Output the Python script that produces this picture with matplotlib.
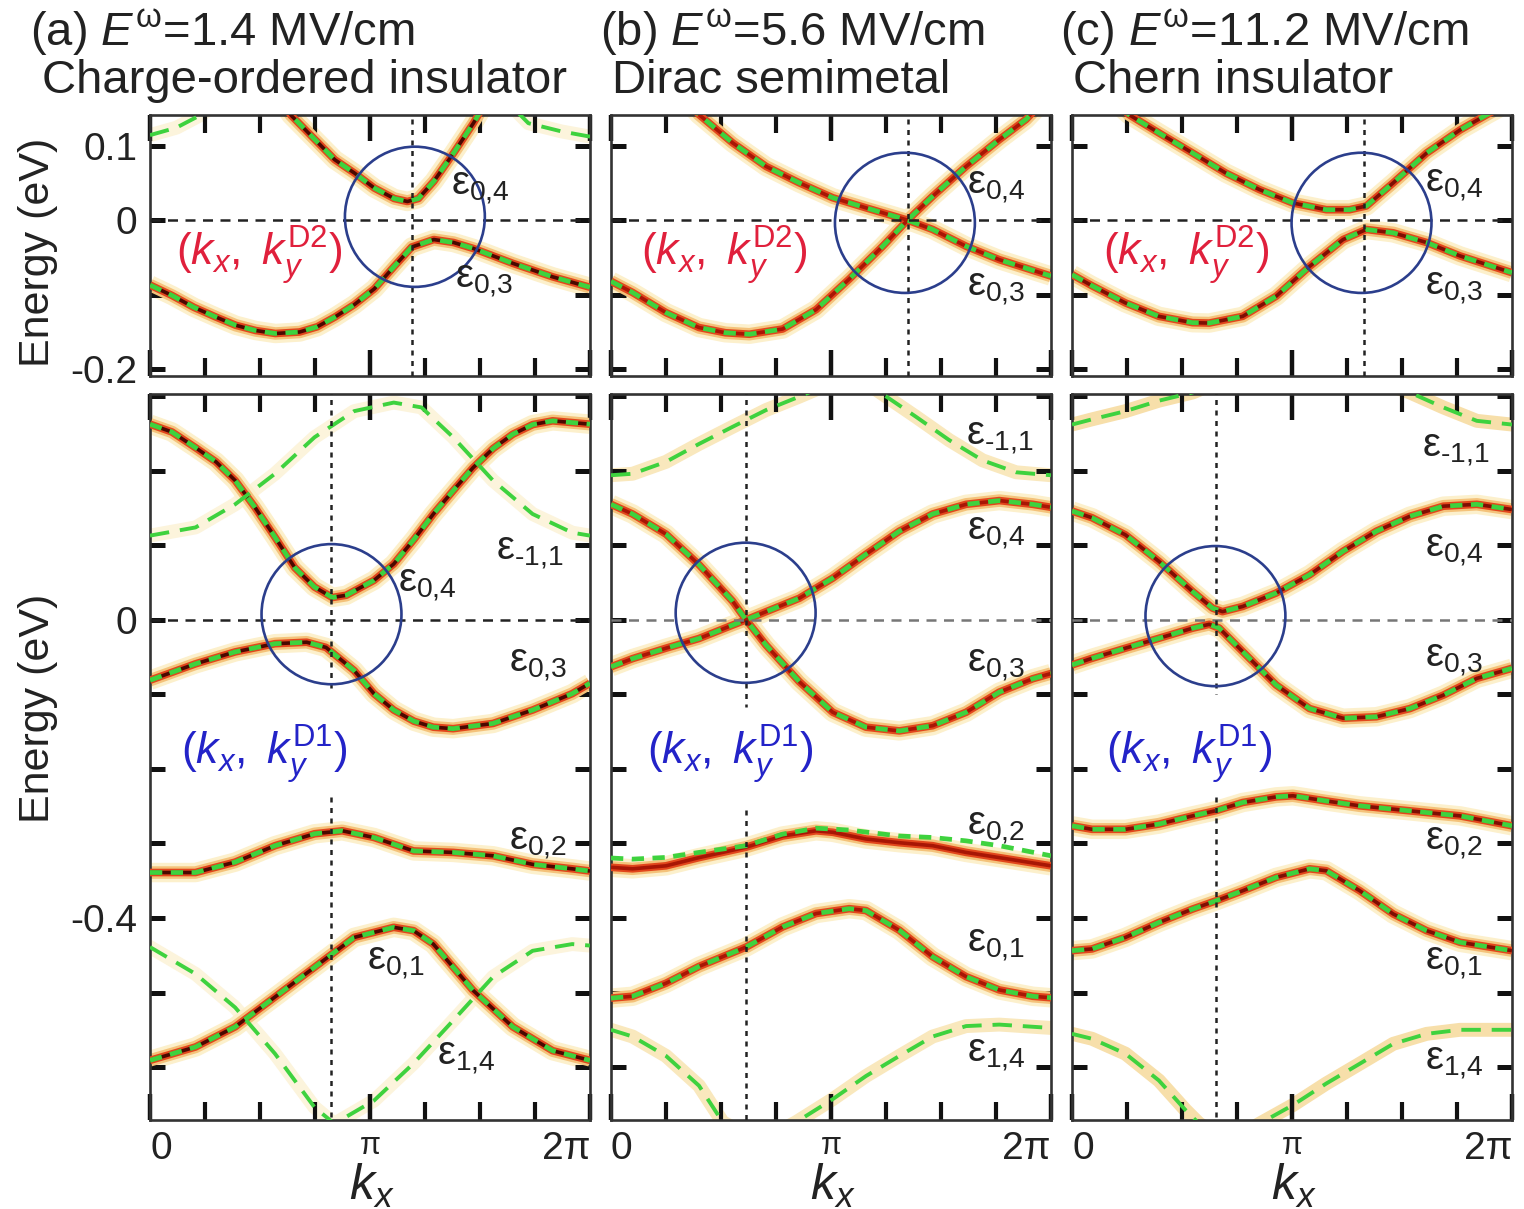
import numpy as np
import matplotlib
matplotlib.use("Agg")
import matplotlib.pyplot as plt
from matplotlib.patches import Ellipse

plt.rcParams['font.family'] = ['Liberation Sans', 'DejaVu Sans']
plt.rcParams['mathtext.fontset'] = 'custom'
plt.rcParams['mathtext.rm'] = 'Liberation Sans'
plt.rcParams['mathtext.it'] = 'Liberation Sans:italic'
plt.rcParams['mathtext.bf'] = 'Liberation Sans:bold'

# ---- data: kx in units of pi, energy in eV ----
# (a) top row, (kx, ky^D2)
a_top_e04_k = [0.55, 0.64, 0.75, 0.84, 0.93, 1.02, 1.11, 1.17, 1.22, 1.29, 1.38, 1.47, 1.55]
a_top_e04_E = [0.18, 0.141, 0.108, 0.081, 0.063, 0.043, 0.029, 0.025, 0.029, 0.052, 0.090, 0.130, 0.17]
a_top_e03_k = [0, 0.1, 0.2, 0.3, 0.39, 0.48, 0.57, 0.68, 0.76, 0.84, 0.93, 1.02, 1.11, 1.19, 1.29, 1.38, 1.47, 1.65, 1.83, 2.0]
a_top_e03_E = [-0.087, -0.101, -0.117, -0.130, -0.141, -0.148, -0.152, -0.150, -0.143, -0.130, -0.113, -0.092, -0.062, -0.036, -0.026, -0.030, -0.038, -0.058, -0.076, -0.090]
a_top_em11_k = [0, 0.12, 0.23, 0.35, 1.0, 1.62, 1.72, 1.87, 2.0]
a_top_em11_E = [0.114, 0.124, 0.141, 0.165, 0.30, 0.16, 0.13, 0.119, 0.112]

# (b) top row
b_top_dn_k = [0.3, 0.40, 0.553, 0.705, 0.856, 1.008, 1.159, 1.348, 1.462, 1.614, 1.765, 2.0]
b_top_dn_E = [0.175, 0.1415, 0.1036, 0.072, 0.050, 0.030, 0.0165, 0.0, -0.0125, -0.035, -0.053, -0.075]
b_top_up_k = [0, 0.098, 0.25, 0.40, 0.52, 0.629, 0.78, 0.932, 1.083, 1.235, 1.348, 1.462, 1.614, 1.765, 1.886, 2.0]
b_top_up_E = [-0.082, -0.097, -0.124, -0.144, -0.151, -0.153, -0.146, -0.120, -0.079, -0.035, 0.0, 0.032, 0.072, 0.108, 0.135, 0.17]

# (c) top row
c_top_e04_k = [0.15, 0.259, 0.395, 0.548, 0.70, 0.852, 1.004, 1.156, 1.262, 1.338, 1.46, 1.612, 1.764, 1.886, 2.0]
c_top_e04_E = [0.17, 0.1415, 0.117, 0.090, 0.063, 0.041, 0.023, 0.014, 0.014, 0.019, 0.050, 0.090, 0.121, 0.1415, 0.16]
c_top_e03_k = [0, 0.091, 0.243, 0.395, 0.548, 0.624, 0.776, 0.928, 1.08, 1.232, 1.338, 1.46, 1.612, 1.764, 2.0]
c_top_e03_E = [-0.073, -0.088, -0.111, -0.129, -0.1375, -0.138, -0.129, -0.102, -0.062, -0.026, -0.0125, -0.017, -0.030, -0.048, -0.0705]

# (a) bottom row, (kx, ky^D1)
a_bot_e04_k = [0, 0.1, 0.207, 0.3, 0.387, 0.477, 0.568, 0.658, 0.748, 0.829, 0.892, 1.018, 1.108, 1.2, 1.288, 1.38, 1.468, 1.56, 1.649, 1.74, 1.83, 2.0]
a_bot_e04_E = [0.2625, 0.252, 0.231, 0.212, 0.187, 0.151, 0.111, 0.070, 0.044, 0.030, 0.033, 0.053, 0.075, 0.108, 0.142, 0.174, 0.204, 0.230, 0.249, 0.262, 0.267, 0.2625]
a_bot_em11_k = [0, 0.207, 0.387, 0.568, 0.748, 0.928, 1.108, 1.234, 1.378, 1.559, 1.739, 1.919, 2.0]
a_bot_em11_E = [0.113, 0.124, 0.155, 0.196, 0.245, 0.280, 0.2915, 0.285, 0.245, 0.187, 0.142, 0.117, 0.113]
a_bot_e03_k = [0, 0.207, 0.387, 0.568, 0.712, 0.80, 0.928, 1.018, 1.108, 1.2, 1.288, 1.378, 1.559, 1.739, 1.919, 2.0]
a_bot_e03_E = [-0.081, -0.059, -0.043, -0.032, -0.030, -0.037, -0.068, -0.099, -0.121, -0.136, -0.144, -0.146, -0.139, -0.121, -0.099, -0.085]
a_bot_e02_k = [0, 0.207, 0.387, 0.568, 0.748, 0.874, 1.018, 1.198, 1.378, 1.559, 1.739, 1.919, 2.0]
a_bot_e02_E = [-0.339, -0.339, -0.325, -0.303, -0.287, -0.283, -0.292, -0.310, -0.312, -0.3165, -0.328, -0.334, -0.337]
a_bot_e01_k = [0, 0.207, 0.387, 0.568, 0.748, 0.928, 1.108, 1.198, 1.288, 1.468, 1.649, 1.83, 2.0]
a_bot_e01_E = [-0.591, -0.573, -0.546, -0.506, -0.466, -0.426, -0.4125, -0.417, -0.435, -0.497, -0.546, -0.578, -0.591]
a_bot_e14_k = [0, 0.207, 0.387, 0.568, 0.748, 0.838, 1.018, 1.198, 1.378, 1.559, 1.739, 1.919, 2.0]
a_bot_e14_E = [-0.439, -0.475, -0.52, -0.582, -0.654, -0.676, -0.645, -0.595, -0.5375, -0.479, -0.444, -0.435, -0.437]

# (b) bottom row
b_bot_em11_k = [0, 0.098, 0.25, 0.40, 0.553, 0.705, 0.856, 1.1, 1.386, 1.538, 1.689, 1.841, 2.0]
b_bot_em11_E = [0.194, 0.196, 0.212, 0.236, 0.259, 0.2815, 0.2995, 0.33, 0.2725, 0.241, 0.214, 0.198, 0.194]
b_bot_dn_k = [0, 0.098, 0.25, 0.40, 0.553, 0.614, 0.705, 0.856, 1.008, 1.159, 1.311, 1.462, 1.614, 1.765, 1.917, 2.0]
b_bot_dn_E = [0.155, 0.142, 0.115, 0.074, 0.025, 0.0, -0.034, -0.083, -0.124, -0.144, -0.149, -0.142, -0.124, -0.097, -0.079, -0.072]
b_bot_up_k = [0, 0.098, 0.25, 0.40, 0.553, 0.614, 0.705, 0.856, 1.008, 1.159, 1.311, 1.462, 1.614, 1.765, 1.917, 2.0]
b_bot_up_E = [-0.063, -0.052, -0.038, -0.025, -0.007, 0.0, 0.011, 0.029, 0.056, 0.088, 0.119, 0.142, 0.155, 0.160, 0.155, 0.151]
b_bot_e02_k = [0, 0.098, 0.25, 0.40, 0.614, 0.78, 0.932, 1.008, 1.159, 1.311, 1.462, 1.614, 1.765, 2.0]
b_bot_e02_E = [-0.332, -0.334, -0.330, -0.319, -0.305, -0.290, -0.283, -0.285, -0.294, -0.299, -0.303, -0.312, -0.319, -0.330]
b_bot_e02g_k = [0, 0.098, 0.25, 0.40, 0.614, 0.78, 0.932, 1.083, 1.311, 1.462, 1.614, 1.765, 2.0]
b_bot_e02g_E = [-0.3195, -0.321, -0.3187, -0.312, -0.303, -0.2875, -0.2795, -0.282, -0.290, -0.292, -0.2965, -0.303, -0.3165]
b_bot_e01_k = [0, 0.098, 0.25, 0.40, 0.614, 0.78, 0.932, 1.083, 1.159, 1.311, 1.462, 1.614, 1.765, 1.917, 2.0]
b_bot_e01_E = [-0.5075, -0.505, -0.4875, -0.465, -0.439, -0.412, -0.394, -0.3875, -0.390, -0.4165, -0.452, -0.4787, -0.4965, -0.505, -0.507]
b_bot_e14_k = [0, 0.098, 0.25, 0.40, 0.508, 0.674, 0.841, 1.008, 1.159, 1.311, 1.462, 1.614, 1.765, 2.0]
b_bot_e14_E = [-0.550, -0.559, -0.585, -0.625, -0.674, -0.70, -0.674, -0.643, -0.612, -0.585, -0.559, -0.545, -0.543, -0.5475]

# (c) bottom row
c_bot_em11_k = [0, 0.091, 0.243, 0.395, 0.548, 1.0, 1.536, 1.688, 1.84, 2.0]
c_bot_em11_E = [0.262, 0.269, 0.280, 0.294, 0.305, 0.36, 0.305, 0.285, 0.267, 0.262]
c_bot_e04_k = [0, 0.091, 0.243, 0.395, 0.548, 0.639, 0.684, 0.776, 0.928, 1.08, 1.232, 1.384, 1.536, 1.688, 1.84, 2.0]
c_bot_e04_E = [0.146, 0.137, 0.114, 0.0785, 0.038, 0.0157, 0.011, 0.018, 0.036, 0.0605, 0.092, 0.119, 0.139, 0.1525, 0.155, 0.148]
c_bot_e03_k = [0, 0.091, 0.243, 0.395, 0.548, 0.624, 0.669, 0.776, 0.928, 1.08, 1.232, 1.384, 1.536, 1.688, 1.84, 2.0]
c_bot_e03_E = [-0.0605, -0.0516, -0.038, -0.0247, -0.0112, -0.006, -0.011, -0.0426, -0.0874, -0.119, -0.132, -0.130, -0.119, -0.101, -0.0785, -0.065]
c_bot_e02_k = [0, 0.091, 0.243, 0.395, 0.548, 0.654, 0.776, 0.928, 1.004, 1.156, 1.308, 1.46, 1.612, 1.764, 2.0]
c_bot_e02_E = [-0.2763, -0.281, -0.281, -0.274, -0.263, -0.256, -0.245, -0.2375, -0.236, -0.243, -0.2495, -0.254, -0.2585, -0.263, -0.2763]
c_bot_e01_k = [0, 0.091, 0.243, 0.395, 0.548, 0.654, 0.776, 0.928, 1.08, 1.156, 1.308, 1.46, 1.612, 1.764, 2.0]
c_bot_e01_E = [-0.4438, -0.4415, -0.426, -0.406, -0.388, -0.377, -0.3634, -0.3455, -0.334, -0.3366, -0.3634, -0.3946, -0.417, -0.4326, -0.4438]
c_bot_e14_k = [0, 0.091, 0.243, 0.395, 0.517, 0.578, 0.715, 0.852, 1.004, 1.156, 1.308, 1.46, 1.612, 1.764, 2.0]
c_bot_e14_E = [-0.5554, -0.562, -0.582, -0.618, -0.658, -0.676, -0.70, -0.676, -0.651, -0.622, -0.5955, -0.5688, -0.5554, -0.55, -0.55]

# panel titles
titles = ['(a) $E^{\\mathrm{\\omega}}$=1.4 MV/cm', '(b) $E^{\\mathrm{\\omega}}$=5.6 MV/cm',
          '(c) $E^{\\mathrm{\\omega}}$=11.2 MV/cm']
phases = ['Charge-ordered insulator', 'Dirac semimetal', 'Chern insulator']

# vertical guide (kx of Dirac point, units of pi) and circle centres (kx/pi, E)
kD2 = [1.19, 1.348, 1.326]
kD1 = [0.823, 0.614, 0.654]
vgap_hi = [-0.094, -0.117, -0.10]
vgap_lo = [-0.238, -0.255, -0.238]
circ_top = [(1.204, 0.0045), (1.336, -0.0036), (1.316, -0.0036)]
circ_bot = [(0.825, 0.0076), (0.612, 0.0095), (0.652, 0.005)]
circ_r = (0.318, 0.094)

# band labels: (subscript, kx/pi, E)
lab_top = [[('0{,}4', 1.50, 0.043), ('0{,}3', 1.518, -0.081)],
           [('0{,}4', 1.75, 0.044), ('0{,}3', 1.75, -0.093)],
           [('0{,}4', 1.736, 0.047), ('0{,}3', 1.736, -0.091)]]
lab_bot = [[('\u2010 1{,}1', 1.727, 0.090), ('0{,}4', 1.259, 0.047), ('0{,}3', 1.764, -0.060),
            ('0{,}2', 1.764, -0.299), ('0{,}1', 1.118, -0.460), ('1{,}4', 1.436, -0.588)],
           [('\u2010 1{,}1', 1.768, 0.244), ('0{,}4', 1.75, 0.117), ('0{,}3', 1.75, -0.060),
            ('0{,}2', 1.75, -0.279), ('0{,}1', 1.75, -0.436), ('1{,}4', 1.75, -0.584)],
           [('\u2010 1{,}1', 1.745, 0.228), ('0{,}4', 1.736, 0.094), ('0{,}3', 1.736, -0.054),
            ('0{,}2', 1.736, -0.299), ('0{,}1', 1.736, -0.460), ('1{,}4', 1.736, -0.595)]]
pos_D2 = [(0.495, -0.047), (0.514, -0.047), (0.518, -0.047)]
pos_D1 = [(0.518, -0.181), (0.541, -0.181), (0.532, -0.181)]

core_col = ['#4a0800', '#a81605', '#7e0e03']
side_halo = ['#fcf4dc', '#f9e8bd', '#f7dfaa']

TXT = '#222222'


def draw_band(ax, k, E, core, gk=None, gE=None):
    k = np.array(k) * np.pi
    kw = dict(solid_joinstyle='round', solid_capstyle='butt')
    ax.plot(k, E, color='#fcf0cc', lw=14, zorder=1, **kw)
    ax.plot(k, E, color='#f4c27a', lw=9, zorder=2, **kw)
    ax.plot(k, E, color='#e2461c', lw=5.5, zorder=3, **kw)
    ax.plot(k, E, color=core, lw=2.6, zorder=4, **kw)
    if gk is None:
        gk, gE = k, E
    else:
        gk = np.array(gk) * np.pi
    ax.plot(gk, gE, color='#3ed23e', lw=3.4, dashes=(2.6, 1.8), zorder=6,
            dash_capstyle='butt', dash_joinstyle='round')


def draw_side(ax, k, E, halo):
    k = np.array(k) * np.pi
    ax.plot(k, E, color=halo, lw=10, zorder=1, solid_joinstyle='round')
    ax.plot(k, E, color='#3ed23e', lw=2.8, dashes=(5, 2.8), zorder=6,
            dash_joinstyle='round')


def style_axes(ax, ylim, yt, ylab, show_y, show_x):
    ax.set_xlim(0, 2 * np.pi)
    ax.set_ylim(*ylim)
    ax.set_xticks([0, np.pi, 2 * np.pi])
    ax.set_xticks(np.array([0.25, 0.5, 0.75, 1.25, 1.5, 1.75]) * np.pi, minor=True)
    ax.set_yticks(yt)
    ax.tick_params(which='both', direction='in', top=True, right=True,
                   color='#111111', labelsize=28, labelcolor=TXT)
    ax.tick_params(axis='x', which='major', length=19, width=3.2, pad=8)
    ax.tick_params(axis='x', which='minor', length=13, width=3.0)
    ax.tick_params(axis='y', which='major', length=11, width=3.6, pad=9)
    for s in ax.spines.values():
        s.set_linewidth(1.9)
        s.set_color('#333333')
    if show_y:
        ax.set_yticklabels(ylab)
    else:
        ax.set_yticklabels([])
    if show_x:
        labs = ax.set_xticklabels(['0', 'π', '2π'])
        labs[0].set_ha('left')
        labs[1].set_fontsize(22)
        labs[1].set_va('top')
        labs[2].set_ha('right')
    else:
        ax.set_xticklabels([])


fig = plt.figure(figsize=(15.24, 12.09), dpi=100)
W, H = 1524.0, 1209.0
lefts = [150, 611, 1072]
top_ax = [fig.add_axes([l / W, 1 - 376 / H, 440 / W, 261 / H]) for l in lefts]
bot_ax = [fig.add_axes([l / W, 1 - 1120 / H, 440 / W, 726 / H]) for l in lefts]

# top row bands
draw_side(top_ax[0], a_top_em11_k, a_top_em11_E, side_halo[0])
draw_band(top_ax[0], a_top_e04_k, a_top_e04_E, core_col[0])
draw_band(top_ax[0], a_top_e03_k, a_top_e03_E, core_col[0])
draw_band(top_ax[1], b_top_dn_k, b_top_dn_E, core_col[1])
draw_band(top_ax[1], b_top_up_k, b_top_up_E, core_col[1])
draw_band(top_ax[2], c_top_e04_k, c_top_e04_E, core_col[2])
draw_band(top_ax[2], c_top_e03_k, c_top_e03_E, core_col[2])

# bottom row bands
draw_side(bot_ax[0], a_bot_em11_k, a_bot_em11_E, side_halo[0])
draw_side(bot_ax[0], a_bot_e14_k, a_bot_e14_E, side_halo[0])
draw_band(bot_ax[0], a_bot_e04_k, a_bot_e04_E, core_col[0])
draw_band(bot_ax[0], a_bot_e03_k, a_bot_e03_E, core_col[0])
draw_band(bot_ax[0], a_bot_e02_k, a_bot_e02_E, core_col[0])
draw_band(bot_ax[0], a_bot_e01_k, a_bot_e01_E, core_col[0])

draw_side(bot_ax[1], b_bot_em11_k, b_bot_em11_E, side_halo[1])
draw_side(bot_ax[1], b_bot_e14_k, b_bot_e14_E, side_halo[1])
draw_band(bot_ax[1], b_bot_dn_k, b_bot_dn_E, core_col[1])
draw_band(bot_ax[1], b_bot_up_k, b_bot_up_E, core_col[1])
draw_band(bot_ax[1], b_bot_e02_k, b_bot_e02_E, core_col[1], b_bot_e02g_k, b_bot_e02g_E)
draw_band(bot_ax[1], b_bot_e01_k, b_bot_e01_E, core_col[1])

draw_side(bot_ax[2], c_bot_em11_k, c_bot_em11_E, side_halo[2])
draw_side(bot_ax[2], c_bot_e14_k, c_bot_e14_E, side_halo[2])
draw_band(bot_ax[2], c_bot_e04_k, c_bot_e04_E, core_col[2])
draw_band(bot_ax[2], c_bot_e03_k, c_bot_e03_E, core_col[2])
draw_band(bot_ax[2], c_bot_e02_k, c_bot_e02_E, core_col[2])
draw_band(bot_ax[2], c_bot_e01_k, c_bot_e01_E, core_col[2])

bot_ticks = np.round(np.arange(-0.6, 0.35, 0.1), 2)
bot_labels = ['0' if abs(v) < 1e-9 else ('-0.4' if abs(v + 0.4) < 1e-9 else '') for v in bot_ticks]

for i in range(3):
    at, ab = top_ax[i], bot_ax[i]
    style_axes(at, (-0.209, 0.141), [-0.2, -0.1, 0, 0.1], ['-0.2', '', '0', '0.1'], i == 0, False)
    style_axes(ab, (-0.671, 0.303), bot_ticks, bot_labels, i == 0, True)

    hcol = '#222222' if i == 0 else '#777777'
    at.axhline(0, color='#222222', lw=1.8, dashes=(4, 3), zorder=7)
    ab.axhline(0, color=hcol, lw=1.8, dashes=(4, 3), zorder=7)
    at.axvline(kD2[i] * np.pi, color='#222222', lw=1.8, dashes=(2, 2.2), zorder=7)
    ab.plot([kD1[i] * np.pi] * 2, [0.31, vgap_hi[i]], color='#222222', lw=1.8,
            dashes=(2, 2.2), zorder=7)
    ab.plot([kD1[i] * np.pi] * 2, [vgap_lo[i], -0.68], color='#222222', lw=1.8,
            dashes=(2, 2.2), zorder=7)

    for ax, (ck, cE) in ((at, circ_top[i]), (ab, circ_bot[i])):
        ax.add_patch(Ellipse((ck * np.pi, cE), 2 * circ_r[0] * np.pi, 2 * circ_r[1],
                             fill=False, ec='#2b3e8c', lw=1.9, zorder=8, clip_on=False))

    for sub, kk, ee in lab_top[i]:
        at.text(kk * np.pi, ee, 'ε$_{%s}$' % sub, fontsize=29, color=TXT,
                ha='center', va='center', zorder=9)
    for sub, kk, ee in lab_bot[i]:
        ab.text(kk * np.pi, ee, 'ε$_{%s}$' % sub.replace('\u2010 ', '\u2010'), fontsize=29, color=TXT,
                ha='center', va='center', zorder=9)

    at.text(pos_D2[i][0] * np.pi, pos_D2[i][1], '$(k_x,\\ k_y^{\\mathrm{D2}})$',
            fontsize=32, color='#e0203c', ha='center', va='center', zorder=9)
    ab.text(pos_D1[i][0] * np.pi, pos_D1[i][1], '$(k_x,\\ k_y^{\\mathrm{D1}})$',
            fontsize=32, color='#2323c8', ha='center', va='center', zorder=9)

    # kx axis label
    fig.text((lefts[i] + 222) / W, 1 - 1186 / H, '$k_x$', fontsize=36, color=TXT,
             ha='center', va='center')

# titles
tx1 = [30, 600, 1060]
tx2 = [42, 612, 1073]
for i in range(3):
    fig.text(tx1[i] / W, 1 - 33 / H, titles[i], fontsize=34, color=TXT, ha='left', va='center')
    fig.text(tx2[i] / W, 1 - 81 / H, phases[i], fontsize=34, color=TXT, ha='left', va='center')

fig.text(38 / W, 1 - 252 / H, 'Energy (eV)', fontsize=31, color=TXT, rotation=90,
         ha='center', va='center')
fig.text(38 / W, 1 - 708 / H, 'Energy (eV)', fontsize=31, color=TXT, rotation=90,
         ha='center', va='center')

fig.savefig('out.png', dpi=100, facecolor='white')
